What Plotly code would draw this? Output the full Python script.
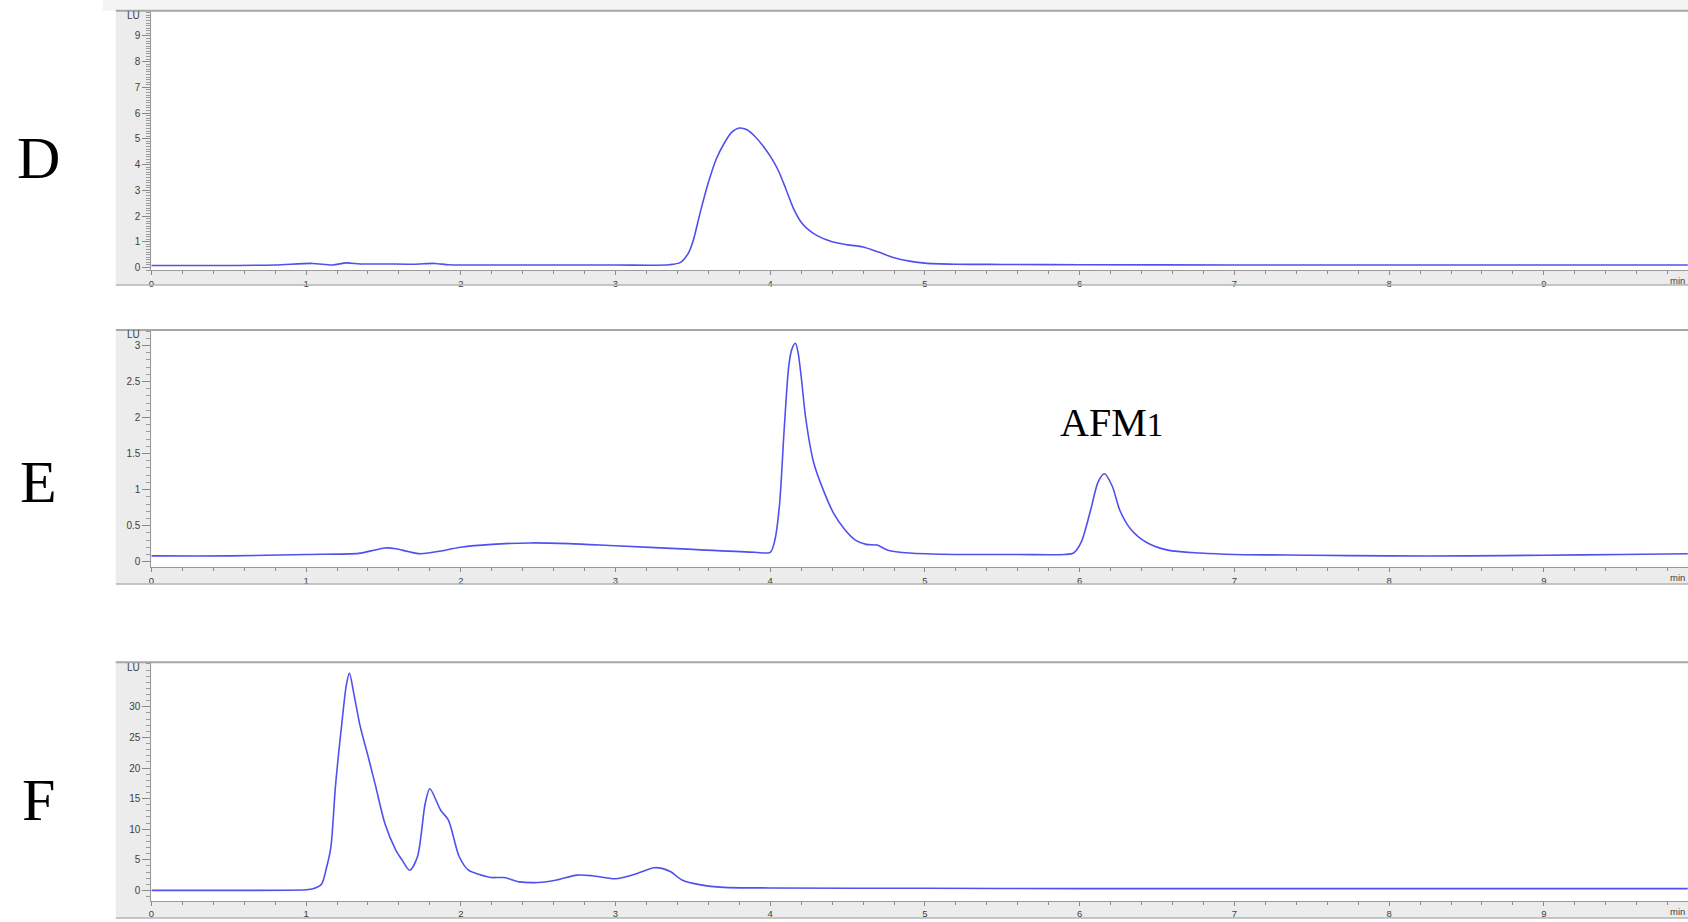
import plotly.graph_objects as go

# ---------------- data ----------------
time_D = [0, 0.5, 0.8, 1.04, 1.17, 1.26, 1.35, 1.5, 1.7, 1.83, 1.92, 2.0, 2.5, 3.0, 3.35,
          3.42, 3.47, 3.5, 3.55, 3.6, 3.65, 3.7, 3.75, 3.8, 3.85, 3.9, 3.95, 4.0, 4.05,
          4.1, 4.15, 4.2, 4.25, 4.3, 4.4, 4.5, 4.6, 4.7, 4.8, 4.9, 5.0, 5.2, 5.5, 6.0,
          7.0, 8.0, 9.0, 9.93]
lu_D = [0.08, 0.08, 0.1, 0.16, 0.1, 0.18, 0.14, 0.14, 0.13, 0.16, 0.11, 0.1, 0.1, 0.1, 0.11,
        0.2, 0.55, 1.0, 2.2, 3.3, 4.2, 4.8, 5.25, 5.42, 5.35, 5.1, 4.75, 4.33, 3.8,
        3.07, 2.3, 1.76, 1.45, 1.25, 1.0, 0.88, 0.8, 0.6, 0.38, 0.25, 0.17, 0.13, 0.12, 0.11,
        0.1, 0.1, 0.1, 0.1]

time_E = [0, 0.5, 1.0, 1.34, 1.42, 1.51, 1.58, 1.66, 1.74, 1.85, 2.0, 2.2, 2.45, 2.7, 3.0,
          3.5, 3.9, 4.0, 4.03, 4.06, 4.09, 4.12, 4.14, 4.163, 4.18, 4.2, 4.23, 4.28, 4.34,
          4.41, 4.48, 4.55, 4.62, 4.69, 4.76, 4.9, 5.2, 5.6, 5.9, 5.96, 6.01, 6.07, 6.12,
          6.16, 6.21, 6.26, 6.33, 6.43, 6.57, 6.78, 7.0, 7.5, 8.0, 8.5, 9.0, 9.5, 9.93]
lu_E = [0.08, 0.08, 0.1, 0.115, 0.15, 0.19, 0.18, 0.14, 0.11, 0.14, 0.2, 0.24, 0.26, 0.25, 0.22,
        0.17, 0.13, 0.13, 0.3, 0.79, 1.83, 2.72, 2.95, 3.03, 2.9, 2.57, 1.98, 1.38, 1.01,
        0.67, 0.45, 0.3, 0.24, 0.23, 0.16, 0.12, 0.1, 0.1, 0.1, 0.12, 0.27, 0.71, 1.11,
        1.22, 1.05, 0.71, 0.45, 0.27, 0.16, 0.12, 0.1, 0.09, 0.08, 0.08, 0.09, 0.1, 0.11]

time_F = [0, 0.5, 1.0, 1.05, 1.1, 1.13, 1.16, 1.19, 1.23, 1.26, 1.28, 1.31, 1.35, 1.4, 1.45,
          1.51, 1.58, 1.62, 1.67, 1.72, 1.77, 1.8, 1.87, 1.92, 1.99, 2.05, 2.12, 2.2, 2.28,
          2.38, 2.5, 2.62, 2.75, 2.85, 3.0, 3.12, 3.25, 3.3, 3.36, 3.43, 3.55, 3.7, 4.0,
          5.0, 6.0, 7.0, 8.0, 9.0, 9.93]
lu_F = [0, 0, 0.1, 0.3, 1.0, 3.5, 7.0, 17, 27, 33.5, 35.5, 32, 26.8, 22, 17,
        10.9, 6.6, 5.0, 3.3, 5.5, 14.2, 16.6, 13.1, 11.5, 5.5, 3.3, 2.6, 2.1, 2.1,
        1.4, 1.3, 1.7, 2.5, 2.4, 1.9, 2.6, 3.7, 3.6, 3.0, 1.7, 0.9, 0.5, 0.4,
        0.35, 0.3, 0.3, 0.3, 0.3, 0.3]

panel_labels = ["D", "E", "F"]
ytick_D = [0, 1, 2, 3, 4, 5, 6, 7, 8, 9]
ytick_E = [0, 0.5, 1, 1.5, 2, 2.5, 3]
ytick_F = [0, 5, 10, 15, 20, 25, 30]
xtick_vals = [0, 1, 2, 3, 4, 5, 6, 7, 8, 9]
peak_label = "AFM"
peak_sub = "1"

# ---------------- layout helpers ----------------
W, H = 1688, 922
def px(x):
    return x / W
def py(y):
    return 1 - y / H

X_LEFT = 148.6
STRIP_LEFT = 113
LINE_COLOR = "#5050f0"
STRIP = "#ececec"
BORDER = "#a6a6a6"
TICK_FONT = dict(family="Liberation Sans, Arial, sans-serif", size=10, color="#404040")
XTICK_FONT = dict(family="Liberation Sans, Arial, sans-serif", size=9.5, color="#404040")

# panel geometry: (top, axis, strip bottom, y-range, ticks, minor dtick)
panels = [
    (10.7, 271.0, 286.0, [-0.1, 9.98], ytick_D, 0.1, time_D, lu_D, 159),
    (331.0, 569.0, 586.0, [-0.076, 3.216], ytick_E, 0.1, time_E, lu_E, 484),
    (664.3, 904.0, 921.0, [-1.74, 37.3], ytick_F, 1, time_F, lu_F, 803),
]

fig = go.Figure()
shapes = []
annotations = []
layout_axes = {}

for i, (top, axis_y, bot, yr, ytv, ymin, tx, ty, label_y) in enumerate(panels):
    n = "" if i == 0 else str(i + 1)
    fig.add_trace(go.Scatter(
        x=tx, y=ty, mode="lines", xaxis="x" + n, yaxis="y" + n,
        line=dict(color=LINE_COLOR, width=1.6, shape="spline", smoothing=0.8),
        showlegend=False, hoverinfo="skip"))

    layout_axes["xaxis" + n] = dict(
        domain=[px(X_LEFT), 1], range=[0, (W - X_LEFT) / 155.0],
        anchor="y" + n, tickmode="array", tickvals=xtick_vals,
        ticks="outside", ticklen=4, tickcolor="#8a8a8a", tickwidth=1,
        minor=dict(tickmode="linear", tick0=0, dtick=0.2, ticks="outside",
                   ticklen=3, tickcolor="#8a8a8a"),
        showline=True, linecolor="#9a9a9a", linewidth=1,
        showgrid=False, zeroline=False, tickfont=XTICK_FONT, fixedrange=True)
    layout_axes["yaxis" + n] = dict(
        domain=[py(axis_y), py(top)], range=yr, anchor="x" + n,
        tickmode="array", tickvals=ytv,
        ticktext=[("%g" % v) for v in ytv],
        ticks="outside", ticklen=8, tickcolor="#8a8a8a", tickwidth=1,
        minor=dict(tickmode="linear", tick0=0, dtick=ymin, ticks="outside",
                   ticklen=4, tickcolor="#9a9a9a"),
        showline=True, linecolor="#9a9a9a", linewidth=1,
        showgrid=False, zeroline=False, tickfont=TICK_FONT, fixedrange=True)

    # gray axis strips
    shapes.append(dict(type="rect", xref="paper", yref="paper", layer="below",
                       x0=px(STRIP_LEFT), x1=px(X_LEFT), y0=py(bot), y1=py(top),
                       fillcolor=STRIP, line=dict(width=0)))
    shapes.append(dict(type="rect", xref="paper", yref="paper", layer="below",
                       x0=px(X_LEFT), x1=1, y0=py(bot), y1=py(axis_y),
                       fillcolor=STRIP, line=dict(width=0)))
    # borders
    shapes.append(dict(type="line", xref="paper", yref="paper",
                       x0=px(STRIP_LEFT), x1=1, y0=py(top), y1=py(top),
                       line=dict(color=BORDER, width=2)))
    shapes.append(dict(type="line", xref="paper", yref="paper",
                       x0=px(STRIP_LEFT), x1=1, y0=py(bot), y1=py(bot),
                       line=dict(color="#b4b4b4", width=1.5)))

    # LU unit label at top of y axis
    annotations.append(dict(xref="paper", yref="paper", x=px(139), y=py(top + 5),
                            text="LU", showarrow=False, xanchor="right", yanchor="middle",
                            font=TICK_FONT))
    # 'min' unit label at right end of x axis
    annotations.append(dict(xref="paper", yref="paper", x=px(1687), y=py(axis_y + 10),
                            text="min", showarrow=False, xanchor="right", yanchor="middle",
                            font=XTICK_FONT))
    # panel letter
    annotations.append(dict(xref="paper", yref="paper", x=px(36), y=py(label_y),
                            text=panel_labels[i], showarrow=False,
                            xanchor="center", yanchor="middle",
                            font=dict(family="Liberation Serif, Times New Roman, serif",
                                      size=60, color="#000000")))

# light band above first panel
shapes.append(dict(type="rect", xref="paper", yref="paper", layer="below",
                   x0=px(100), x1=1, y0=py(10.7), y1=1,
                   fillcolor="#f4f4f4", line=dict(width=0)))

# peak label
annotations.append(dict(xref="paper", yref="paper", x=px(1057), y=py(424),
                        text=peak_label + "<span style='font-size:33px'>" + peak_sub + "</span>",
                        showarrow=False, xanchor="left", yanchor="middle",
                        font=dict(family="Liberation Serif, Times New Roman, serif",
                                  size=40, color="#000000")))

fig.update_layout(
    width=W, height=H,
    margin=dict(l=0, r=0, t=0, b=0),
    paper_bgcolor="white", plot_bgcolor="rgba(0,0,0,0)",
    shapes=shapes, annotations=annotations,
    **layout_axes,
)

fig.write_html("out.html",
               config={"displayModeBar": False},
               post_script="document.body.style.margin='0';document.body.style.padding='0';"
                           "document.body.style.overflow='hidden';")
